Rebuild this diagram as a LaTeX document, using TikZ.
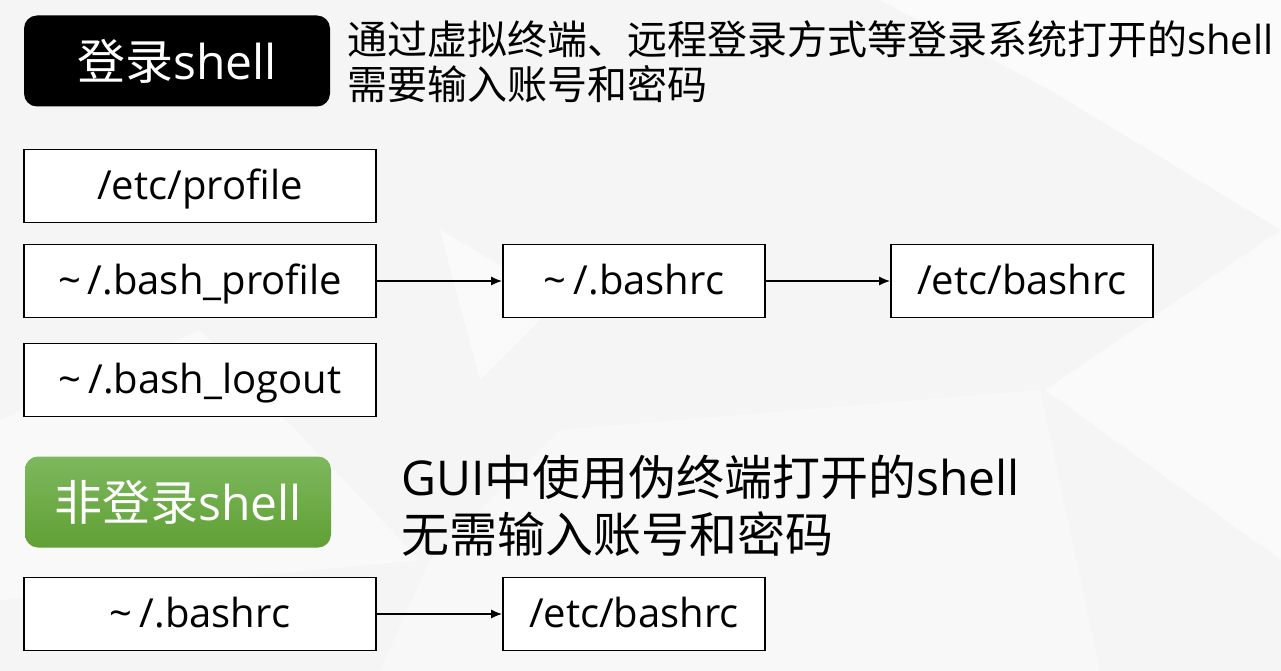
\documentclass[tikz,border=0pt]{standalone}
\usepackage{fontspec}
\setmainfont{Open Sans}
\newfontfamily\cjk{Noto Sans CJK SC}
\usetikzlibrary{arrows.meta}
\newcommand{\home}{\textasciitilde\kern7pt/}
\begin{document}
\begin{tikzpicture}[x=1pt,y=-1pt,
    filebox/.style={draw=black,line width=1.8pt,fill=white,inner sep=0pt,
        minimum height=73pt,text height=31pt,text depth=4pt,
        font=\fontsize{40}{42}\selectfont},
    tagbox/.style={rounded corners=13pt,inner sep=0pt,minimum width=306pt,
        minimum height=91pt,text=white,font=\fontsize{48}{50}\selectfont},
    link/.style={line width=1.4pt,-{Latex[length=11pt,width=9pt]}}]
\useasboundingbox (0,0) rectangle (1281,671);
% background
\fill[black!4] (0,0) rectangle (1281,671);
\fill[white,opacity=.6] (880,0) -- (1281,0) -- (1281,230) -- (1050,90) -- cycle;
\fill[white,opacity=.5] (1045,390) -- (1281,230) -- (1281,560) -- cycle;
\fill[white,opacity=.4] (0,420) -- (200,330) -- (420,560) -- (0,600) -- cycle;
\fill[black!2,opacity=.7] (430,560) -- (560,430) -- (1040,390) -- (1100,671) -- (380,671) -- cycle;
\fill[white,opacity=.5] (440,230) -- (560,300) -- (480,380) -- cycle;
% login shell
\node[tagbox,fill=black] (login) at (177,61) {{\cjk 登录}shell};
\node[anchor=west,align=left,inner sep=0pt,font=\fontsize{40}{45}\selectfont]
    (logininfo) at (347,62) {{\cjk 通过虚拟终端、远程登录方式等登录系统打开的}shell\\{\cjk 需要输入账号和密码}};
\node[filebox,minimum width=352pt] (profile) at (200,186) {/etc/profile};
\node[filebox,minimum width=352pt] (bashprofile) at (200,281) {\home.bash\_profile};
\node[filebox,minimum width=352pt] (logout) at (200,380) {\home.bash\_logout};
\node[filebox,minimum width=262pt] (bashrc) at (634,281) {\home.bashrc};
\node[filebox,minimum width=262pt] (etcbashrc) at (1022,281) {/etc/bashrc};
\draw[link] (bashprofile) -- (bashrc);
\draw[link] (bashrc) -- (etcbashrc);
% non-login shell
\node[tagbox,top color={rgb,255:red,125;green,184;blue,94},
    bottom color={rgb,255:red,96;green,160;blue,52}]
    (nonlogin) at (178,502) {{\cjk 非登录}shell};
\node[anchor=west,align=left,inner sep=0pt,font=\fontsize{48}{57}\selectfont]
    (nonlogininfo) at (401,506) {GUI{\cjk 中使用伪终端打开的}shell\\{\cjk 无需输入账号和密码}};
\node[filebox,minimum width=352pt] (userrc) at (200,614) {\home.bashrc};
\node[filebox,minimum width=262pt] (systemrc) at (634,614) {/etc/bashrc};
\draw[link] (userrc) -- (systemrc);
\end{tikzpicture}
\end{document}
